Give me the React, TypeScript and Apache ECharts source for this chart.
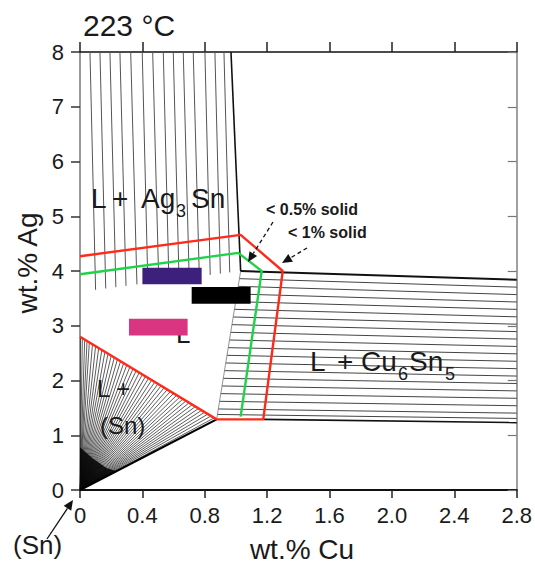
import React, { useEffect, useRef } from "react";
import * as echarts from "echarts";

const FF = '"Liberation Sans", Arial, Helvetica, sans-serif';

// Tie lines in the L + Ag3Sn field (x at top edge y=8, x at lower boundary)
const ag3snTopX = [0.064, 0.128, 0.192, 0.256, 0.325, 0.399, 0.466, 0.534, 0.598, 0.662, 0.726, 0.801, 0.865, 0.923];
const ag3snBottomX = [0.1, 0.165, 0.23, 0.295, 0.365, 0.435, 0.505, 0.57, 0.635, 0.7, 0.765, 0.835, 0.9, 0.96];
// Lower boundary of the L + Ag3Sn field
const ag3snLower = [[0, 3.62], [1.03, 4.0]];
const ag3snRight = [[0.968, 8], [1.03, 4.0]];

// Tie lines in the L + Cu6Sn5 field (y at left boundary, y at x=2.8)
const cu6sn5LeftY = [3.86, 3.72, 3.58, 3.44, 3.3, 3.16, 3.02, 2.88, 2.74, 2.6, 2.46, 2.32, 2.18, 2.04, 1.9, 1.76, 1.62, 1.48, 1.38];
const cu6sn5RightY = [3.705, 3.569, 3.434, 3.299, 3.163, 3.028, 2.893, 2.757, 2.622, 2.487, 2.351, 2.216, 2.081, 1.945, 1.81, 1.675, 1.539, 1.404, 1.307];
const cu6sn5Left = [[0.876, 1.29], [1.03, 4.0]];
const cu6sn5Top = [[1.03, 4.0], [2.8, 3.84]];
const cu6sn5Bottom = [[1.175, 1.29], [2.8, 1.23]];

// Fan of tie lines in the L + (Sn) field, from (0,0) to the liquidus
const fanEndX = [
  0.0, 0.015, 0.03, 0.045, 0.06, 0.08, 0.1, 0.12, 0.14, 0.16, 0.18, 0.2, 0.22, 0.24, 0.26, 0.28,
  0.3, 0.32, 0.34, 0.36, 0.38, 0.4, 0.42, 0.44, 0.46, 0.48, 0.5, 0.52, 0.54, 0.56, 0.58, 0.6,
  0.62, 0.64, 0.66, 0.68, 0.7, 0.72, 0.74, 0.76, 0.78, 0.8, 0.82, 0.84, 0.86,
];
const snLiquidus = [[0, 2.8], [0.876, 1.29]];
const snSolidus = [[0, 0], [0.876, 1.29]];
// Dense dark core of the fan near (Sn)
const fanCore = [[0, 0], [0, 0.78], [0.08, 0.58], [0.17, 0.4], [0.24, 0.34]];

// Solidification-path envelopes
const redCurve = [[0, 4.27], [1.03, 4.66], [1.3, 4.0], [1.175, 1.29], [0.876, 1.29], [0, 2.8]];
const greenCurve = [[0, 3.94], [1.015, 4.33], [1.165, 4.0], [1.03, 1.34]];

// Alloy composition bars [x0, x1, y0, y1]
const barNames = ["purple", "black", "pink"];
const barRanges = [
  [0.4, 0.78, 3.76, 4.06],
  [0.716, 1.094, 3.4, 3.71],
  [0.314, 0.69, 2.82, 3.13],
];
const barColors = ["#3d1f7c", "#000000", "#d93580"];

function lerpY(seg: number[][], x: number) {
  const [[x0, y0], [x1, y1]] = seg;
  return y0 + ((x - x0) / (x1 - x0)) * (y1 - y0);
}
function lerpX(seg: number[][], y: number) {
  const [[x0, y0], [x1, y1]] = seg;
  return x0 + ((y - y0) / (y1 - y0)) * (x1 - x0);
}

function arrow(x1: number, y1: number, x2: number, y2: number, dashed: boolean) {
  const dx = x2 - x1, dy = y2 - y1;
  const L = Math.hypot(dx, dy);
  const ux = dx / L, uy = dy / L;
  const hl = 10, hw = 4.5;
  const bx = x2 - ux * hl, by = y2 - uy * hl;
  return [
    {
      type: "line",
      shape: { x1, y1, x2: bx, y2: by },
      style: { stroke: "#111", lineWidth: 1.3, lineDash: dashed ? [4, 3] : null },
      z: 100,
    },
    {
      type: "polygon",
      shape: {
        points: [
          [x2, y2],
          [bx - uy * hw, by + ux * hw],
          [bx + uy * hw, by - ux * hw],
        ],
      },
      style: { fill: "#111" },
      z: 100,
    },
  ];
}

function txt(text: string, x: number, y: number, size: number, opts: any = {}) {
  return {
    type: "text",
    x,
    y,
    z: opts.z ?? 100,
    rotation: opts.rotation ?? 0,
    style: {
      text,
      fill: opts.fill ?? "#1a1a1a",
      font: `${opts.bold ? "bold " : ""}${size}px ${FF}`,
      align: opts.align ?? "left",
      verticalAlign: "middle",
    },
  };
}

export default function App() {
  const ref = useRef<HTMLDivElement>(null);
  useEffect(() => {
    if (!ref.current) return;
    const chart = echarts.init(ref.current, null, { renderer: "svg" });

    const ag3snTies = ag3snTopX.map((xt, i) => ({
      coords: [[xt, 8], [ag3snBottomX[i], lerpY(ag3snLower, ag3snBottomX[i])]],
    }));
    const cuTies = cu6sn5LeftY.map((yl, i) => ({
      coords: [[lerpX(cu6sn5Left, yl), yl], [2.8, cu6sn5RightY[i]]],
    }));
    const fanTies = fanEndX.map((xe) => ({
      coords: [[0, 0], [xe, lerpY(snLiquidus, xe)]],
    }));

    const seg = (name: string, data: number[][], color: string, width: number, z = 3) => ({
      name,
      type: "line",
      data,
      showSymbol: false,
      symbol: "none",
      lineStyle: { color, width },
      z,
      silent: true,
    });

    const tieSeries = (name: string, data: any[], color: string, width: number) => ({
      name,
      type: "lines",
      coordinateSystem: "cartesian2d",
      data,
      polyline: false,
      lineStyle: { color, width, opacity: 1 },
      z: 2,
      silent: true,
    });

    const option: any = {
      animation: false,
      grid: { left: 80, right: 18, top: 52, bottom: 74, containLabel: false },
      xAxis: [
        {
          type: "value",
          min: 0,
          max: 2.8,
          interval: 0.4,
          position: "bottom",
          axisLine: { show: true, onZero: false, lineStyle: { color: "#111", width: 2 } },
          axisTick: { show: true, inside: false, length: 8, lineStyle: { color: "#222", width: 1.5 } },
          axisLabel: {
            formatter: (v: number) => (v === 0 ? "0" : v.toFixed(1)),
            fontSize: 22,
            fontFamily: FF,
            color: "#1a1a1a",
            margin: 14,
          },
          splitLine: { show: false },
        },
        {
          type: "value",
          min: 0,
          max: 2.8,
          interval: 0.4,
          position: "top",
          axisLine: { show: true, onZero: false, lineStyle: { color: "#111", width: 1.5 } },
          axisTick: { show: true, inside: false, length: 10, lineStyle: { color: "#222", width: 1.5 } },
          axisLabel: { show: false },
          splitLine: { show: false },
        },
      ],
      yAxis: [
        {
          type: "value",
          min: 0,
          max: 8,
          interval: 1,
          position: "left",
          axisLine: { show: true, onZero: false, lineStyle: { color: "#9a9a9a", width: 2 } },
          axisTick: { show: true, inside: false, length: 9, lineStyle: { color: "#333", width: 1.5 } },
          axisLabel: { fontSize: 22, fontFamily: FF, color: "#1a1a1a", margin: 16 },
          splitLine: { show: false },
        },
        {
          type: "value",
          min: 0,
          max: 8,
          interval: 1,
          position: "right",
          axisLine: { show: true, onZero: false, lineStyle: { color: "#a0a0a0", width: 2 } },
          axisTick: { show: true, inside: true, length: 9, lineStyle: { color: "#777", width: 1.2 } },
          axisLabel: { show: false },
          splitLine: { show: false },
        },
      ],
      series: [
        tieSeries("ag3sn ties", ag3snTies, "#555", 1),
        tieSeries("cu6sn5 ties", cuTies, "#444", 1),
        tieSeries("sn fan", fanTies, "#333", 0.8),
        {
          name: "fan core",
          type: "custom",
          z: 2,
          silent: true,
          encode: { x: 0, y: 1 },
          data: [fanCore[0]],
          renderItem: (params: any, api: any) => ({
            type: "polygon",
            shape: { points: fanCore.map((p) => api.coord(p)) },
            style: { fill: "rgba(0,0,0,0.85)" },
          }),
        },
        seg("ag3sn right", ag3snRight, "#111", 1.6),
        seg("cu6sn5 left", cu6sn5Left, "#777", 0.8),
        seg("cu6sn5 top", cu6sn5Top, "#111", 2),
        seg("cu6sn5 bottom", cu6sn5Bottom, "#111", 1.6),
        seg("sn solidus", snSolidus, "#000", 2.2),
        seg("< 1% solid", redCurve, "#ff2a1a", 2.4, 6),
        seg("< 0.5% solid", greenCurve, "#1fd24a", 2.4, 6),
        {
          name: "alloys",
          type: "custom",
          z: 7,
          silent: true,
          encode: { x: [0, 1], y: [2, 3] },
          data: barRanges.map((r, i) => ({ name: barNames[i], value: r })),
          renderItem: (params: any, api: any) => {
            const p0 = api.coord([api.value(0), api.value(3)]);
            const p1 = api.coord([api.value(1), api.value(2)]);
            return {
              type: "rect",
              shape: { x: p0[0], y: p0[1], width: p1[0] - p0[0], height: p1[1] - p0[1] },
              style: { fill: barColors[params.dataIndex] },
            };
          },
        },
      ],
      graphic: [
        txt("223 °C", 83, 25, 30),
        txt("wt.% Cu", 302, 549, 28, { align: "center" }),
        txt("wt.% Ag", 27, 263, 28, { align: "center", rotation: Math.PI / 2 }),
        txt("(Sn)", 13, 545, 26),
        // L + Ag3Sn
        txt("L", 91, 198, 28),
        txt("+", 112, 198, 28),
        txt("Ag", 141, 198, 28),
        txt("3", 176, 211, 18),
        txt("Sn", 191, 198, 28),
        // L + Cu6Sn5
        txt("L", 310, 361, 28),
        txt("+", 337, 361, 28),
        txt("Cu", 361, 361, 28),
        txt("6", 398, 374, 18),
        txt("Sn", 409, 361, 28),
        txt("5", 445, 374, 18),
        // L + (Sn)
        txt("L +", 97, 388, 24),
        txt("(Sn)", 100, 425, 24),
        // L under pink bar
        txt("L", 176, 334, 26, { z: 1 }),
        txt("< 0.5% solid", 266, 209, 16, { bold: true }),
        txt("< 1% solid", 288, 232, 16, { bold: true }),
        ...arrow(273, 222, 248, 262, true),
        ...arrow(307, 248, 282, 263, true),
        ...arrow(47, 539, 73, 500, false),
      ],
    };
    chart.setOption(option);
    return () => chart.dispose();
  }, []);
  return (
    <div
      ref={ref}
      style={{ position: "fixed", left: 0, top: 0, width: 535, height: 564, background: "#fff" }}
    />
  );
}
